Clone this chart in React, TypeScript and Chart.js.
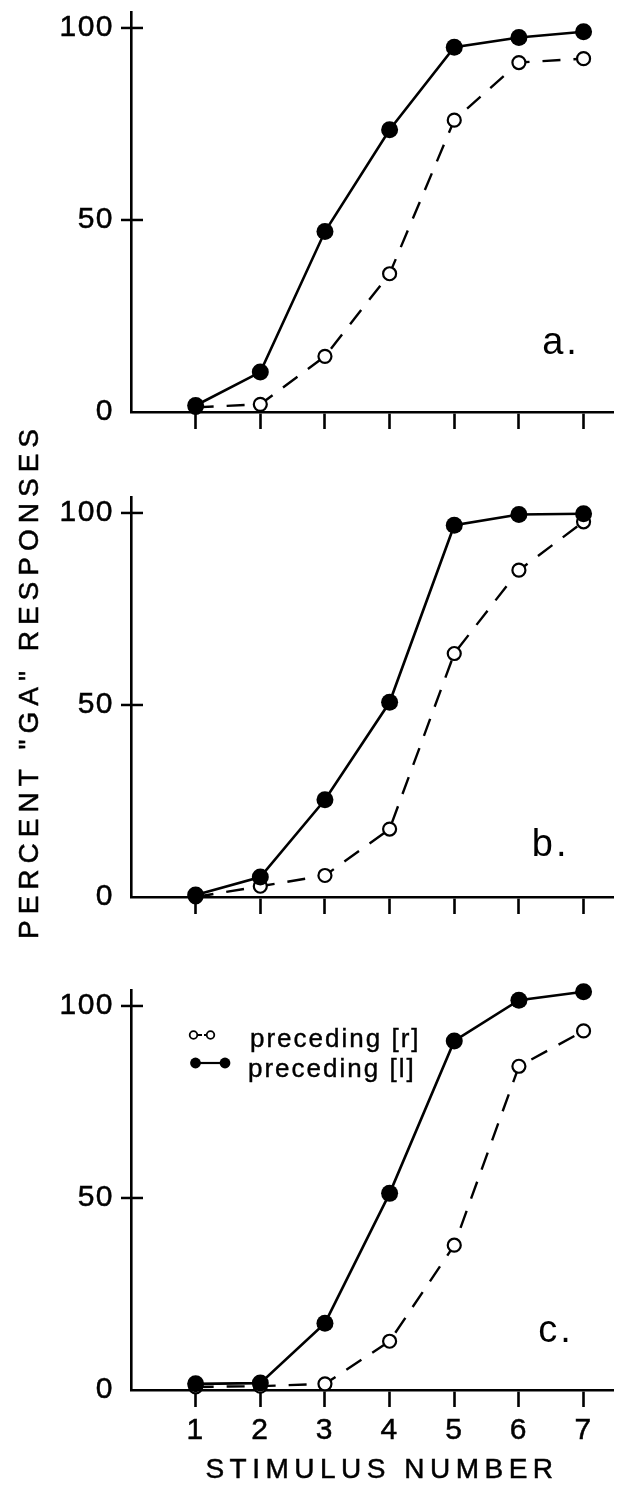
import React, { useEffect, useRef } from "react";
import { Chart, registerables } from "chart.js";

Chart.register(...registerables);

const FONT = "'Liberation Sans', Arial, Helvetica, sans-serif";

// ---- data ----
const stimulusNumbers = [1, 2, 3, 4, 5, 6, 7];
const xTickValues = [1, 2, 3, 4, 5, 6, 7];
const yTickValues = [0, 50, 100];
const yCrossTicks = [50, 100];

const panelA_precedingL = [1.7, 10.4, 47, 73.5, 95, 97.5, 99];
const panelA_precedingR = [1.2, 2, 14.5, 36, 76, 91, 92];
const panelB_precedingL = [0.5, 5.2, 25.3, 50.7, 96.8, 99.6, 99.8];
const panelB_precedingR = [0, 2.8, 5.6, 17.7, 63.4, 85.1, 97.7];
const panelC_precedingL = [1.6, 1.8, 17.4, 51.2, 90.9, 101.5, 103.7];
const panelC_precedingR = [0.8, 1.0, 1.6, 12.7, 37.7, 84.3, 93.5];

const seriesLabels = ["preceding [r]", "preceding [l]"];
const panelLabels = ["a.", "b.", "c."];
const xAxisTitle = "STIMULUS NUMBER";
const yAxisTitle = 'PERCENT "GA" RESPONSES';

const decorPlugin = {
  id: "decor",
  beforeDraw(chart: any) {
    chart.ctx.letterSpacing = "1.5px";
  },
  afterDraw(chart: any, _args: any, opts: any) {
    const ctx = chart.ctx;
    const xs = chart.scales.x;
    const ys = chart.scales.y;
    const area = chart.chartArea;
    ctx.save();
    ctx.strokeStyle = "#000";
    ctx.lineWidth = 2.5;
    ctx.setLineDash([]);
    for (const v of yCrossTicks) {
      const py = ys.getPixelForValue(v);
      ctx.beginPath();
      ctx.moveTo(area.left - 10, py);
      ctx.lineTo(area.left + 12, py);
      ctx.stroke();
    }
    const texts = opts.texts || [];
    for (const t of texts) {
      ctx.save();
      ctx.font = t.font;
      ctx.letterSpacing = (t.ls || 0) + "px";
      ctx.fillStyle = "#000";
      ctx.strokeStyle = "#000";
      ctx.lineWidth = t.stroke || 0;
      ctx.textAlign = t.align || "left";
      ctx.textBaseline = "alphabetic";
      const px = t.data ? xs.getPixelForValue(t.x) : t.x;
      const py = t.data ? ys.getPixelForValue(t.y) : t.y;
      ctx.translate(px, py);
      if (t.rotate) ctx.rotate(t.rotate);
      ctx.fillText(t.text, 0, 0);
      if (t.stroke) ctx.strokeText(t.text, 0, 0);
      ctx.restore();
    }
    const lg = opts.legend;
    if (lg && lg.show) {
      const x0 = lg.x;
      // row 1: open markers, dashed
      const y1 = lg.row1;
      ctx.lineWidth = 1.8;
      ctx.strokeStyle = "#000";
      ctx.beginPath();
      ctx.moveTo(x0 + 7, y1);
      ctx.lineTo(x0 + 12, y1);
      ctx.moveTo(x0 + 14, y1);
      ctx.lineTo(x0 + 18, y1);
      ctx.stroke();
      for (const cx of [x0 + 3.5, x0 + 20.5]) {
        ctx.beginPath();
        ctx.arc(cx, y1, 3.8, 0, Math.PI * 2);
        ctx.fillStyle = "#fff";
        ctx.fill();
        ctx.stroke();
      }
      // row 2: filled markers, solid
      const y2 = lg.row2;
      ctx.lineWidth = 2.2;
      ctx.beginPath();
      ctx.moveTo(x0 + 5.5, y2);
      ctx.lineTo(x0 + 35, y2);
      ctx.stroke();
      ctx.fillStyle = "#000";
      for (const cx of [x0 + 5.5, x0 + 35]) {
        ctx.beginPath();
        ctx.arc(cx, y2, 5.4, 0, Math.PI * 2);
        ctx.fill();
      }
      ctx.font = "26px " + FONT;
      ctx.letterSpacing = "2px";
      ctx.textAlign = "left";
      ctx.textBaseline = "alphabetic";
      ctx.lineWidth = 0.4;
      ctx.fillText(seriesLabels[0], x0 + 60, lg.text1);
      ctx.strokeText(seriesLabels[0], x0 + 60, lg.text1);
      ctx.fillText(seriesLabels[1], x0 + 58, lg.text2);
      ctx.strokeText(seriesLabels[1], x0 + 58, lg.text2);
    }
    ctx.restore();
  },
};

function makeDatasets(lVals: number[], rVals: number[]) {
  return [
    {
      label: seriesLabels[1],
      data: stimulusNumbers.map((x, i) => ({ x, y: lVals[i] })),
      borderColor: "#000",
      backgroundColor: "#000",
      borderWidth: 2.6,
      pointRadius: 8.5,
      pointHoverRadius: 8.5,
      pointBackgroundColor: "#000",
      pointBorderColor: "#000",
      pointBorderWidth: 0,
      tension: 0,
      fill: false,
      clip: false,
    },
    {
      label: seriesLabels[0],
      data: stimulusNumbers.map((x, i) => ({ x, y: rVals[i] })),
      borderColor: "#000",
      backgroundColor: "#fff",
      borderWidth: 2.4,
      borderDash: [18, 13],
      pointRadius: 6.5,
      pointHoverRadius: 6.5,
      pointBackgroundColor: "#fff",
      pointBorderColor: "#000",
      pointBorderWidth: 2.2,
      tension: 0,
      fill: false,
      clip: false,
    },
  ];
}

type PanelCfg = {
  top: number;
  height: number;
  padTop: number;
  axisH: number;
  l: number[];
  r: number[];
  showX: boolean;
  texts: any[];
  legend: any;
};

function Panel({ cfg }: { cfg: PanelCfg }) {
  const ref = useRef<HTMLCanvasElement | null>(null);
  useEffect(() => {
    if (!ref.current) return;
    const chart = new Chart(ref.current, {
      type: "line",
      data: { datasets: makeDatasets(cfg.l, cfg.r) as any },
      options: {
        responsive: false,
        animation: false,
        devicePixelRatio: 1,
        layout: { padding: { top: cfg.padTop, left: 0, right: 0, bottom: 0 } },
        plugins: {
          legend: { display: false },
          tooltip: { enabled: false },
          title: { display: false },
          decor: { texts: cfg.texts, legend: cfg.legend },
        } as any,
        scales: {
          x: {
            type: "linear",
            min: 0,
            max: 7.46,
            afterBuildTicks: (s: any) => {
              s.ticks = xTickValues.map((v) => ({ value: v }));
            },
            afterFit: (s: any) => {
              s.height = cfg.axisH;
              s.paddingLeft = 0;
              s.paddingRight = 0;
            },
            grid: {
              display: true,
              drawOnChartArea: false,
              drawTicks: true,
              tickLength: 17,
              tickWidth: 2.6,
              tickColor: "#000",
              color: "#000",
            },
            border: { display: true, color: "#000", width: 2.6 },
            ticks: {
              display: cfg.showX,
              color: "#000",
              font: { family: FONT, size: 30 },
              textStrokeColor: "#000",
              textStrokeWidth: 0.5,
              padding: 6,
              maxRotation: 0,
              autoSkip: false,
            },
          },
          y: {
            type: "linear",
            min: 0,
            max: 104,
            afterBuildTicks: (s: any) => {
              s.ticks = yTickValues.map((v) => ({ value: v }));
            },
            afterFit: (s: any) => {
              s.width = 131;
              s.paddingTop = 0;
              s.paddingBottom = 0;
            },
            grid: { display: false, drawTicks: false },
            border: { display: true, color: "#000", width: 2.6 },
            ticks: {
              color: "#000",
              font: { family: FONT, size: 30 },
              textStrokeColor: "#000",
              textStrokeWidth: 0.5,
              padding: 17,
            },
          },
        },
      },
      plugins: [decorPlugin],
    });
    return () => chart.destroy();
  }, [cfg]);
  return (
    <canvas
      ref={ref}
      width={622}
      height={cfg.height}
      style={{ position: "absolute", left: 0, top: cfg.top, display: "block" }}
    />
  );
}

const letterFont = "38px " + FONT;

const panels: PanelCfg[] = [
  {
    top: 0,
    height: 442,
    padTop: 12.6,
    axisH: 30,
    l: panelA_precedingL,
    r: panelA_precedingR,
    showX: false,
    texts: [{ text: panelLabels[0], x: 6.36, y: 15, data: true, font: letterFont, ls: 3 }],
    legend: { show: false },
  },
  {
    top: 420,
    height: 525,
    padTop: 77.6,
    axisH: 48,
    l: panelB_precedingL,
    r: panelB_precedingR,
    showX: false,
    texts: [
      { text: panelLabels[1], x: 6.2, y: 10.7, data: true, font: letterFont, ls: 3 },
      {
        text: yAxisTitle,
        x: 38,
        y: 261,
        rotate: -Math.PI / 2,
        align: "center",
        font: "28px " + FONT,
        ls: 6,
        stroke: 0.5,
      },
    ],
    legend: { show: false },
  },
  {
    top: 975,
    height: 519,
    padTop: 15.6,
    axisH: 104,
    l: panelC_precedingL,
    r: panelC_precedingR,
    showX: true,
    texts: [
      { text: panelLabels[2], x: 6.3, y: 12.5, data: true, font: letterFont, ls: 3 },
      { text: xAxisTitle, x: 382, y: 1478 - 975, align: "center", font: "28px " + FONT, ls: 5.5, stroke: 0.5 },
    ],
    legend: { show: true, x: 190, row1: 60, row2: 88, text1: 72, text2: 102 },
  },
];

export default function App() {
  return (
    <div
      style={{
        position: "absolute",
        left: 0,
        top: 0,
        width: 622,
        height: 1494,
        background: "#fff",
        overflow: "hidden",
      }}
    >
      {panels.map((p, i) => (
        <Panel key={i} cfg={p} />
      ))}
    </div>
  );
}
